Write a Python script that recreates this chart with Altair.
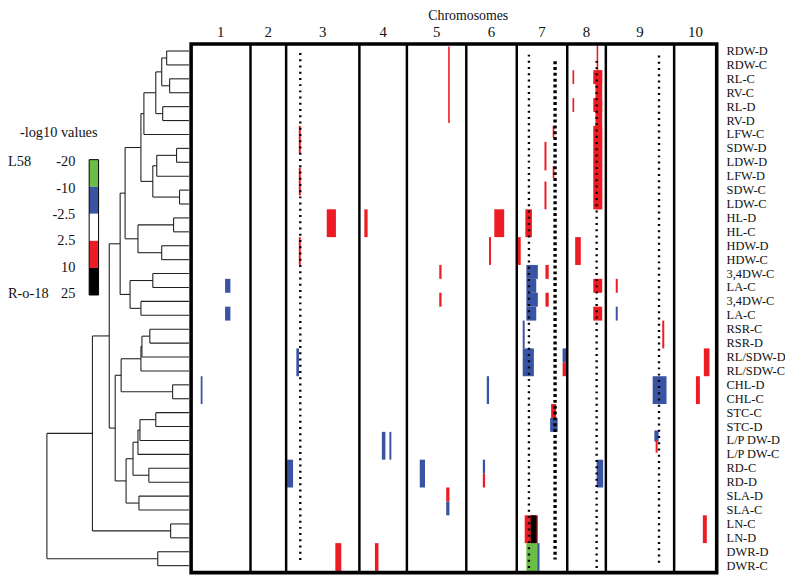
import altair as alt
import pandas as pd

# ---------------- data ----------------
CHROMS = ["1", "2", "3", "4", "5", "6", "7", "8", "9", "10"]
CHROM_LEN = [60, 36, 74, 48, 60, 51, 51, 39, 69, 43]

TRAITS = ["RDW-D", "RDW-C", "RL-C", "RV-C", "RL-D", "RV-D", "LFW-C", "SDW-D", "LDW-D", "LFW-D",
          "SDW-C", "LDW-C", "HL-D", "HL-C", "HDW-D", "HDW-C", "3,4DW-C", "LA-C", "3,4DW-C", "LA-C",
          "RSR-C", "RSR-D", "RL/SDW-D", "RL/SDW-C", "CHL-D", "CHL-C", "STC-C", "STC-D", "L/P DW-D",
          "L/P DW-C", "RD-C", "RD-D", "SLA-D", "SLA-C", "LN-C", "LN-D", "DWR-D", "DWR-C"]

# QTL blocks: (chromosome, start, end, first row, end row)
QTL_RED = [  # 2.5 .. 10
    ("3", 12.8, 14.8, 6, 8), ("3", 12.8, 14.8, 9, 11), ("3", 12.8, 14.8, 14, 16),
    ("3", 41, 50.3, 12, 14), ("3", 49.7, 55.7, 36, 38),
    ("4", 5, 8.3, 12, 14), ("4", 15.7, 19.3, 36, 38),
    ("5", 41.7, 43.3, 0.3, 5.8), ("5", 32.7, 35, 16, 17), ("5", 32.7, 35, 18, 19), ("5", 39.7, 43, 32, 33),
    ("6", 28.3, 38.3, 12, 14), ("6", 23, 25, 14, 16), ("6", 16.7, 19, 31, 32),
    ("7", 36.3, 38, 6, 6.85), ("7", 28, 30, 7.15, 9.2), ("7", 36.3, 38, 8.9, 9.75), ("7", 28, 30, 10, 12),
    ("7", 8.7, 15.3, 12, 14), ("7", 0.7, 4, 14, 16), ("7", 29, 32.3, 16, 17), ("7", 29, 32.3, 18, 19),
    ("7", 34.7, 39.7, 26, 27), ("7", 8, 21.3, 34, 36), ("7", 46.3, 50.3, 23, 24),
    ("8", 29.7, 31.3, 0.1, 2), ("8", 28.5, 35.3, 2, 12), ("8", 26.3, 35.3, 2, 3), ("8", 26.3, 35.3, 4, 5),
    ("8", 26.3, 35.3, 6, 12), ("8", 5.3, 7, 2, 3), ("8", 5.3, 7, 4, 5), ("8", 8, 13.7, 14, 16),
    ("8", 26.3, 35.3, 17, 18), ("8", 26.3, 35.3, 19, 20),
    ("9", 10, 12, 17, 18), ("9", 57, 59, 20, 22), ("9", 50.3, 52.3, 28.6, 29.5),
    ("10", 30, 35.7, 22, 24), ("10", 22, 26, 24, 26), ("10", 29, 33, 34, 36),
]
QTL_BLUE = [  # -2.5 .. -10
    ("1", 34.3, 39.7, 17, 18), ("1", 34.3, 39.7, 19, 20), ("1", 9.7, 11.5, 24, 26),
    ("3", 10.3, 13, 22, 24), ("3", 1, 7, 30, 32),
    ("4", 22.7, 26.3, 28, 30), ("4", 30.3, 32.3, 28, 30),
    ("5", 13, 18.3, 30, 32), ("5", 39.7, 43, 33, 34),
    ("6", 20.7, 23, 24, 26), ("6", 16.7, 19, 30, 31),
    ("7", 9.7, 21.3, 16, 17), ("7", 9.7, 19.7, 17, 18), ("7", 9.7, 21.3, 18, 19), ("7", 9.7, 19.7, 19, 20),
    ("7", 6, 8, 20, 22), ("7", 6, 17.3, 22, 24), ("7", 33.7, 41.3, 27, 28), ("7", 20.7, 23, 36, 38),
    ("7", 46.3, 50.3, 22, 23),
    ("8", 29.7, 36.3, 30, 32),
    ("9", 10, 12, 19, 20), ("9", 47.3, 61.3, 24, 26), ("9", 49, 53.3, 27.9, 28.7),
]
QTL_GREEN = [("7", 9.7, 20.7, 36, 38)]   # -10 .. -20
QTL_BLACK = [("7", 14, 20, 34, 36)]      # 10 .. 25

# dotted marker lines: (chromosome, position, top row, bottom row, style)
MARKERS = [("3", 14.3, 0.64, 37.15, "fine"), ("7", 12.3, 0.76, 37.8, "fine"),
           ("7", 38.7, 1.23, 37.06, "bold"), ("8", 29.7, 1.21, 37.8, "fine"),
           ("9", 53.7, 0.83, 37.37, "fine")]

# dendrogram merges: (child a, child b, height); leaves 0..37, clusters numbered from 38
MERGES = [(0, 1, 0.20), (2, 3, 0.17), (38, 39, 0.25), (4, 5, 0.24), (40, 41, 0.31), (42, 6, 0.43),
          (7, 8, 0.10), (44, 9, 0.30), (10, 11, 0.07), (45, 46, 0.34), (43, 47, 0.46),
          (12, 13, 0.13), (14, 15, 0.25), (49, 50, 0.49), (48, 51, 0.62),
          (16, 17, 0.34), (18, 19, 0.46), (53, 54, 0.57), (52, 55, 0.67),
          (20, 21, 0.37), (57, 22, 0.45), (58, 23, 0.46), (24, 25, 0.14), (59, 60, 0.66),
          (26, 27, 0.31), (62, 28, 0.47), (63, 29, 0.49), (30, 31, 0.38), (64, 65, 0.54),
          (32, 33, 0.48), (66, 67, 0.61), (61, 68, 0.72), (56, 69, 0.78),
          (34, 35, 0.16), (70, 71, 0.95), (36, 37, 0.29), (72, 73, 1.41)]

LEG_VALUES = ["-20", "-10", "-2.5", "2.5", "10", "25"]
LEG_COLORS = ["#6BBE45", "#3A54A4", "#FFFFFF", "#ED1C24", "#000000"]
LEG_PARENTS = ["L58", "R-o-18"]

CLASS_NAMES = ["-20..-10", "-10..-2.5", "2.5..10", "10..25"]
CLASS_COLORS = ["#6BBE45", "#3A54A4", "#ED1C24", "#000000"]

# ---------------- layout constants ----------------
FONT = "Liberation Serif"
BAR_SHIFT = -0.12
DEND_X0, DEND_W, LEAF_H = -4.7, 100.0, -0.025
LEG_X0, LEG_X1 = -103, -93.5
LEG_TOP, LEG_STEP = 8.31, 1.946
LAB_TOP, LAB_STEP = 8.5, 1.893

offsets = {}
acc = 0
for c, L in zip(CHROMS, CHROM_LEN):
    offsets[c] = acc
    acc += L
TOTAL = acc

# bars
rows = []
for cls, lst in zip(CLASS_NAMES, [QTL_GREEN, QTL_BLUE, QTL_RED, QTL_BLACK]):
    for c, s, e, r0, r1 in lst:
        rows.append(dict(x=offsets[c] + s, x2=offsets[c] + e,
                         y=r0 + BAR_SHIFT, y2=r1 + BAR_SHIFT, cls=cls))
qtl_df = pd.DataFrame(rows)

mk_df = pd.DataFrame([dict(x=offsets[c] + p, y=a, y2=b, style=s) for c, p, a, b, s in MARKERS])

# dendrogram segments
node_y = {i: i + 0.5 for i in range(len(TRAITS))}
node_h = {i: LEAF_H for i in range(len(TRAITS))}
segs = []
def hx(h):
    return DEND_X0 - DEND_W * h
for k, (a, b, h) in enumerate(MERGES):
    nid = len(TRAITS) + k
    segs.append(dict(x=hx(h), x2=hx(h), y=node_y[a], y2=node_y[b]))
    for ch in (a, b):
        segs.append(dict(x=hx(h), x2=hx(node_h[ch]), y=node_y[ch], y2=node_y[ch]))
    node_y[nid] = (node_y[a] + node_y[b]) / 2
    node_h[nid] = h
dend_df = pd.DataFrame(segs)

# legend
leg_df = pd.DataFrame([dict(x=LEG_X0, x2=LEG_X1, y=LEG_TOP + i * LEG_STEP,
                            y2=LEG_TOP + (i + 1) * LEG_STEP, col=c) for i, c in enumerate(LEG_COLORS)])
leg_box = pd.DataFrame([dict(x=LEG_X0, x2=LEG_X1, y=LEG_TOP, y2=LEG_TOP + 5 * LEG_STEP)])
leg_lab = pd.DataFrame([dict(x=-117, y=LAB_TOP + i * LAB_STEP, t=v) for i, v in enumerate(LEG_VALUES)])
leg_par = pd.DataFrame([dict(x=-185, y=LAB_TOP, t=LEG_PARENTS[0]),
                        dict(x=-185, y=LAB_TOP + 5 * LAB_STEP, t=LEG_PARENTS[1])])
leg_title = pd.DataFrame([dict(x=-173, y=6.37, t="-log10 values")])

# frame
div_df = pd.DataFrame([dict(x=offsets[c], y=0, y2=38) for c in CHROMS[1:]])
frame_df = pd.DataFrame([dict(x=0, x2=TOTAL, y=0, y2=38)])

chr_lab = pd.DataFrame([dict(x=offsets[c] + L / 2, y=-0.89, t=c) for c, L in zip(CHROMS, CHROM_LEN)])
title_df = pd.DataFrame([dict(x=280, y=-1.71, t="Chromosomes")])
trait_df = pd.DataFrame([dict(x=541, y=i + 0.5, t=t) for i, t in enumerate(TRAITS)])

# ---------------- chart ----------------
xs = alt.Scale(domain=[-185, TOTAL], nice=False, zero=False)
ys = alt.Scale(domain=[0, 38], nice=False, zero=False, reverse=True)
X = alt.X("x:Q", scale=xs, axis=None)
Y = alt.Y("y:Q", scale=ys, axis=None)

dend = alt.Chart(dend_df).mark_rule(color="#222222", strokeWidth=1.1).encode(
    x=X, x2="x2:Q", y=Y, y2="y2:Q")

leg_rects = alt.Chart(leg_df).mark_rect().encode(
    x=X, x2="x2:Q", y=Y, y2="y2:Q", color=alt.Color("col:N", scale=None))
leg_border = alt.Chart(leg_box).mark_rect(fillOpacity=0, stroke="#000000", strokeWidth=1).encode(
    x=X, x2="x2:Q", y=Y, y2="y2:Q")
leg_labels = alt.Chart(leg_lab).mark_text(align="right", baseline="middle", font=FONT, fontSize=14.5,
                                          color="#111111").encode(x=X, y=Y, text="t:N")
leg_parents = alt.Chart(leg_par).mark_text(align="left", baseline="middle", font=FONT, fontSize=14.5,
                                           color="#111111").encode(x=X, y=Y, text="t:N")
leg_ttl = alt.Chart(leg_title).mark_text(align="left", baseline="middle", font=FONT, fontSize=14.5,
                                         color="#111111").encode(x=X, y=Y, text="t:N")

bars = alt.Chart(qtl_df).mark_rect().encode(
    x=X, x2="x2:Q", y=Y, y2="y2:Q",
    color=alt.Color("cls:N", scale=alt.Scale(domain=CLASS_NAMES, range=CLASS_COLORS), legend=None))

fine = alt.Chart(mk_df[mk_df["style"] == "fine"]).mark_rule(
    color="#000000", strokeWidth=2.4, strokeDash=[2, 4.3]).encode(x=X, y=Y, y2="y2:Q")
bold = alt.Chart(mk_df[mk_df["style"] == "bold"]).mark_rule(
    color="#000000", strokeWidth=3.4, strokeDash=[3, 2.9]).encode(x=X, y=Y, y2="y2:Q")

dividers = alt.Chart(div_df).mark_rule(color="#000000", strokeWidth=2.5).encode(x=X, y=Y, y2="y2:Q")
frame = alt.Chart(frame_df).mark_rect(fillOpacity=0, stroke="#000000", strokeWidth=3.6).encode(
    x=X, x2="x2:Q", y=Y, y2="y2:Q")

chr_text = alt.Chart(chr_lab).mark_text(align="center", baseline="middle", font=FONT, fontSize=15,
                                        color="#111111").encode(x=X, y=Y, text="t:N")
title_text = alt.Chart(title_df).mark_text(align="center", baseline="alphabetic", font=FONT, fontSize=14,
                                           color="#111111").encode(x=X, y=Y, text="t:N")
trait_text = alt.Chart(trait_df).mark_text(align="left", baseline="middle", font=FONT, fontSize=12.5,
                                           color="#111111").encode(x=X, y=Y, text="t:N")

chart = alt.layer(
    dend, leg_rects, leg_border, leg_labels, leg_parents, leg_ttl,
    bars, fine, bold, dividers, frame, chr_text, title_text, trait_text
).properties(
    width=716, height=534,
    autosize=alt.AutoSizeParams(type="none"),
    padding={"left": 0, "top": 33.5, "right": 69, "bottom": 2},
).configure_view(strokeWidth=0)

chart.save("out.html", embed_options={"renderer": "svg", "actions": False})
